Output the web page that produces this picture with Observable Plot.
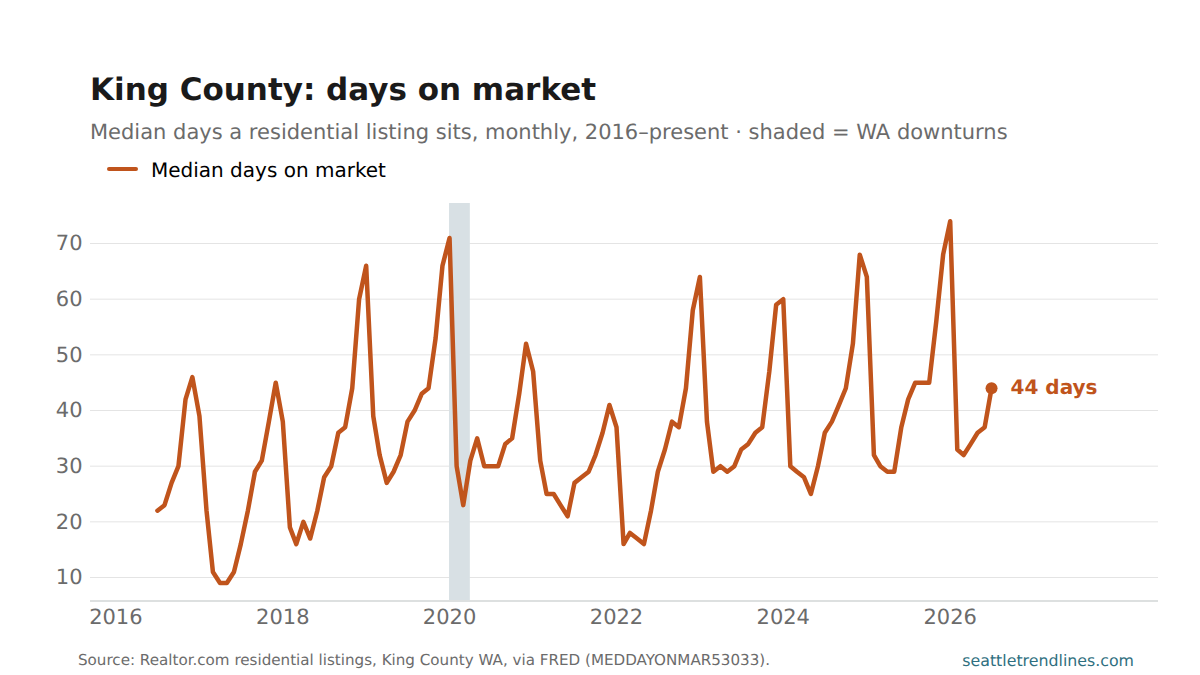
<!DOCTYPE html>
<html>
<head>
<meta charset="utf-8">
<script src="https://cdn.jsdelivr.net/npm/d3@7"></script>
<script src="https://cdn.jsdelivr.net/npm/@observablehq/plot@0.6"></script>
<style>
  html, body { margin: 0; padding: 0; background: #fff; width: 1200px; height: 675px; overflow: hidden; font-family: "DejaVu Sans", sans-serif; text-rendering: geometricPrecision; }
  .abs { position: absolute; white-space: nowrap; line-height: 1; }
  #title { left: 90px; top: 74.5px; font-size: 31px; font-weight: 700; color: #1a1a1a; }
  #subtitle { left: 90px; top: 121.5px; font-size: 21px; color: #6b6b6b; }
  #swatch { left: 107px; top: 167px; width: 31px; height: 4px; border-radius: 2px; background: #c0541c; }
  #legend { left: 151px; top: 159.5px; font-size: 20px; color: #000; }
  #source { left: 78px; top: 653px; font-size: 15.13px; color: #6b6b6b; }
  #site { right: 66px; top: 652.5px; font-size: 15.8px; color: #2f6f80; }
  #chart { position: absolute; left: 0; top: 195px; }
  #chart svg text { text-rendering: geometricPrecision; }
</style>
</head>
<body>
<div class="abs" id="title">King County: days on market</div>
<div class="abs" id="subtitle">Median days a residential listing sits, monthly, 2016–present · shaded = WA downturns</div>
<div class="abs" id="swatch"></div>
<div class="abs" id="legend">Median days on market</div>
<div id="chart"></div>
<div class="abs" id="source">Source: Realtor.com residential listings, King County WA, via FRED (MEDDAYONMAR53033).</div>
<div class="abs" id="site">seattletrendlines.com</div>
<script>
const firstMonth = "2016-07-01";
const medianDays = [
  22, 23, 27, 30, 42, 46,
  39, 22, 11, 9, 9, 11, 16, 22, 29, 31, 38, 45,
  38, 19, 16, 20, 17, 22, 28, 30, 36, 37, 44, 60,
  66, 39, 32, 27, 29, 32, 38, 40, 43, 44, 53, 66,
  71, 30, 23, 31, 35, 30, 30, 30, 34, 35, 43, 52,
  47, 31, 25, 25, 23, 21, 27, 28, 29, 32, 36, 41,
  37, 16, 18, 17, 16, 22, 29, 33, 38, 37, 44, 58,
  64, 38, 29, 30, 29, 30, 33, 34, 36, 37, 47, 59,
  60, 30, 29, 28, 25, 30, 36, 38, 41, 44, 52, 68,
  64, 32, 30, 29, 29, 37, 42, 45, 45, 45, 56, 68,
  74, 33, 32, 34, 36, 37, 44
];
const downturnStart = ["2020-01-01"];
const downturnEnd = ["2020-04-01"];
const yTicks = [10, 20, 30, 40, 50, 60, 70];
const xTickYears = [2016, 2018, 2020, 2022, 2024, 2026];
const xDomain = ["2015-09-12", "2028-07-01"];
const yDomain = [5.78, 77.19];
const lineColor = "#c0541c";
const endLabel = "44 days";

const start = new Date(firstMonth);
const rows = medianDays.map((v, i) => ({ date: d3.utcMonth.offset(start, i), value: v }));
const last = rows[rows.length - 1];
const bands = downturnStart.map((s, i) => ({ x1: new Date(s), x2: new Date(downturnEnd[i]) }));

const plot = Plot.plot({
  width: 1200,
  height: 450,
  marginLeft: 90,
  marginRight: 42,
  marginTop: 8,
  marginBottom: 44.5,
  style: { fontFamily: "DejaVu Sans", background: "transparent", overflow: "visible" },
  x: { type: "utc", domain: xDomain.map(d => new Date(d)) },
  y: { domain: yDomain },
  marks: [
    Plot.ruleY(yTicks, { stroke: "#e4e4e4", strokeWidth: 1 }),
    Plot.rectY(bands, { x1: "x1", x2: "x2", y1: yDomain[0], y2: yDomain[1], fill: "#d8e0e4" }),
    Plot.ruleY([yDomain[0]], { stroke: "#dde0e0", strokeWidth: 2 }),
    Plot.axisY({ ticks: yTicks, tickSize: 0, tickPadding: 8, fontSize: 21, color: "#6b6b6b", label: null, tickFormat: d => String(d) }),
    Plot.axisX({ ticks: xTickYears.map(y => new Date(Date.UTC(y, 0, 1))), tickSize: 0, tickPadding: 8, fontSize: 21, color: "#6b6b6b", label: null, tickFormat: d => String(d.getUTCFullYear()) }),
    Plot.line(rows, { x: "date", y: "value", stroke: lineColor, strokeWidth: 4.5, strokeLinejoin: "round", curve: "linear" }),
    Plot.dot([last], { x: "date", y: "value", r: 6, fill: lineColor, stroke: "none" }),
    Plot.text([last], { x: "date", y: "value", text: () => endLabel, dx: 19, dy: -1, textAnchor: "start", fontSize: 20, fontWeight: 700, fill: lineColor })
  ]
});
document.getElementById("chart").appendChild(plot);
</script>
</body>
</html>
